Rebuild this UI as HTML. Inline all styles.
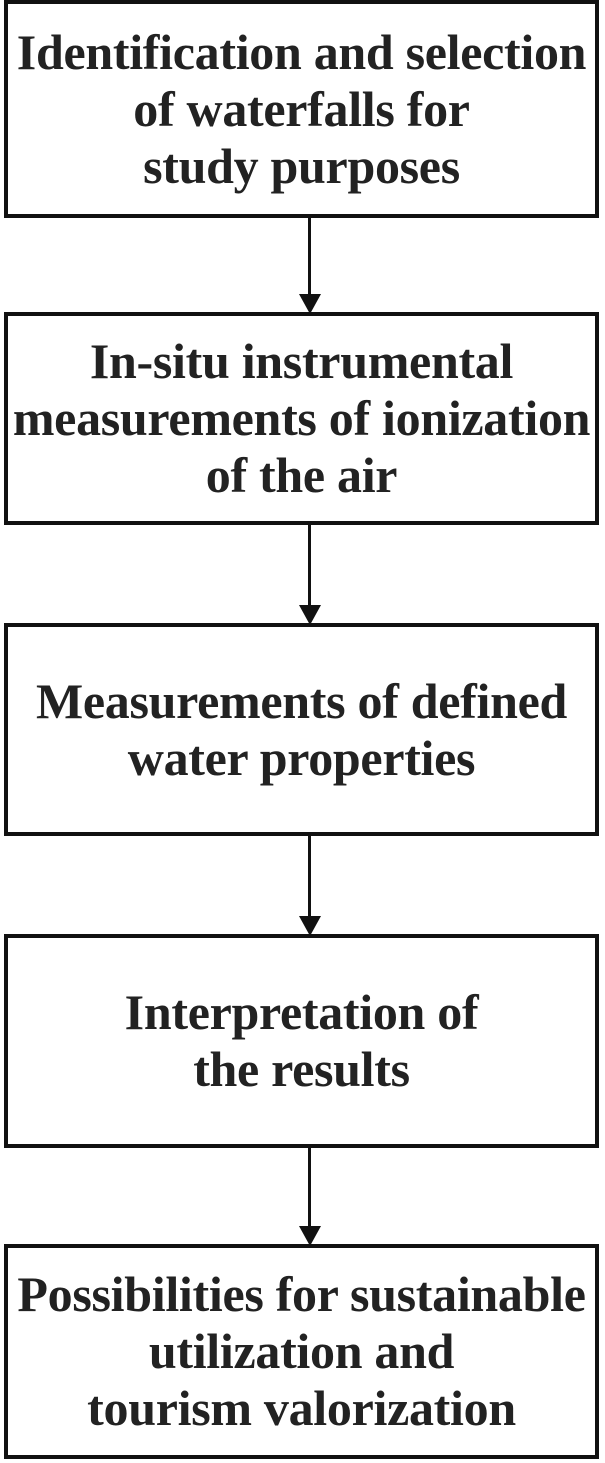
<!DOCTYPE html>
<html><head><style>
body{margin:0;width:605px;height:1463px;background:#fff;position:relative;overflow:hidden}
.b{position:absolute;left:4px;border:4px solid #111;display:flex;align-items:center;justify-content:center;text-align:center;font-family:"Liberation Serif",serif;font-weight:bold;font-size:50px;line-height:57px;color:#222;white-space:nowrap;box-sizing:border-box;width:595px;letter-spacing:-0.3px}
.l{position:absolute;left:308px;width:3px;background:#111}
.a{position:absolute;left:299px;width:0;height:0;border-left:11px solid transparent;border-right:11px solid transparent;border-top:20px solid #111}
</style></head><body>
<div class="b" style="top:0;height:218px">Identification and selection<br>of waterfalls for<br>study purposes</div>
<div class="l" style="top:217px;height:80px"></div><div class="a" style="top:294px"></div>
<div class="b" style="top:312px;height:213px">In-situ instrumental<br>measurements of ionization<br>of the air</div>
<div class="l" style="top:524px;height:84px"></div><div class="a" style="top:605px"></div>
<div class="b" style="top:623px;height:213px">Measurements of defined<br>water properties</div>
<div class="l" style="top:835px;height:84px"></div><div class="a" style="top:916px"></div>
<div class="b" style="top:934px;height:214px">Interpretation of<br>the results</div>
<div class="l" style="top:1147px;height:82px"></div><div class="a" style="top:1226px"></div>
<div class="b" style="top:1244px;height:215px">Possibilities for sustainable<br>utilization and<br>tourism valorization</div>
</body></html>
